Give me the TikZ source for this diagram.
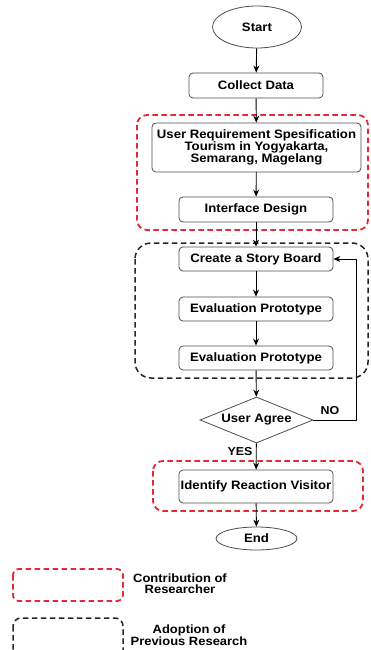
\documentclass[tikz,border=0pt]{standalone}
\usepackage{fontspec}
\setmainfont[FakeStretch=1.08]{Liberation Sans}
\usetikzlibrary{shapes.geometric,arrows.meta}
\begin{document}
\begin{tikzpicture}[x=1pt,y=1pt,
  every node/.style={font=\fontsize{12.2}{11.7}\selectfont\bfseries},
  proc/.style={draw=black!70,line width=0.8pt,rounded corners=4pt,align=center,inner sep=0pt},
  term/.style={draw=black!70,line width=0.8pt,ellipse,inner sep=0pt},
  dec/.style={draw=black!70,line width=0.8pt,diamond,inner sep=0pt},
  arr/.style={line width=0.9pt,-{Stealth[length=7pt,width=6pt]}},
  redbox/.style={draw={rgb,255:red,228;green,40;blue,52},line width=1.8pt,dash pattern=on 5.5pt off 3.5pt,rounded corners=10pt},
  blkbox/.style={draw=black!85,line width=1.5pt,dash pattern=on 5.5pt off 3.5pt,rounded corners=16pt},
  lbl/.style={align=center,font=\fontsize{12}{11}\selectfont\bfseries}]
\useasboundingbox (0,0) rectangle (370,-650);
% groups
\draw[redbox] (137,-115) rectangle (368,-230);
\draw[blkbox] (135,-243) rectangle (368,-378);
\draw[redbox] (153,-461) rectangle (363,-511);
% nodes
\node[term,minimum width=89pt,minimum height=42pt] (start) at (257,-27) {Start};
\node[proc,minimum width=134pt,minimum height=25pt] (collect) at (256,-85.5) {Collect Data};
\node[proc,minimum width=209pt,minimum height=49pt] (usr) at (256.5,-147.5) {User Requirement Spesification\\Tourism in Yogyakarta,\\Semarang, Magelang};
\node[proc,minimum width=154pt,minimum height=25pt] (iface) at (256,-209.5) {Interface Design};
\node[proc,minimum width=154pt,minimum height=24pt] (story) at (256,-259) {Create a Story Board};
\node[proc,minimum width=154pt,minimum height=24pt] (eval1) at (256,-309) {Evaluation Prototype};
\node[proc,minimum width=154pt,minimum height=24pt] (eval2) at (256,-358) {Evaluation Prototype};
\node[dec,minimum width=113pt,minimum height=46pt,aspect=2.45] (agree) at (256.5,-420) {User Agree};
\node[proc,minimum width=154pt,minimum height=33pt] (ident) at (256,-486.5) {Identify Reaction Visitor};
\node[term,minimum width=81pt,minimum height=23pt] (end) at (256.5,-538.5) {End};
% connectors
\draw[arr] (start) -- (collect);
\draw[arr] (collect) -- (usr);
\draw[arr] (usr) -- (iface);
\draw[arr] (iface) -- (story);
\draw[arr] (story) -- (eval1);
\draw[arr] (eval1) -- (eval2);
\draw[arr] (eval2) -- (agree);
\draw[arr] (agree) -- (ident) node[pos=0.3,left=0pt,font=\fontsize{11.5}{12}\selectfont\bfseries] (yes) {YES};
\draw[arr] (ident) -- (end);
\coordinate (c1) at (356,-420);
\coordinate (c2) at (356,-259);
\draw[arr] (agree.east) -- (c1) -- (c2) -- (story.east);
\node[font=\fontsize{11.5}{12}\selectfont\bfseries] (no) at (330,-411) {NO};
% legend
\draw[redbox,rounded corners=6pt] (13,-569) rectangle (123,-601);
\node[lbl] (l1) at (180,-584) {Contribution of\\Researcher};
\begin{scope}
\clip (0,-605) rectangle (370,-650);
\draw[blkbox,rounded corners=8pt] (13,-618) rectangle (123,-660);
\end{scope}
\node[lbl] (l2) at (189,-635) {Adoption of\\Previous Research};
\end{tikzpicture}
\end{document}
